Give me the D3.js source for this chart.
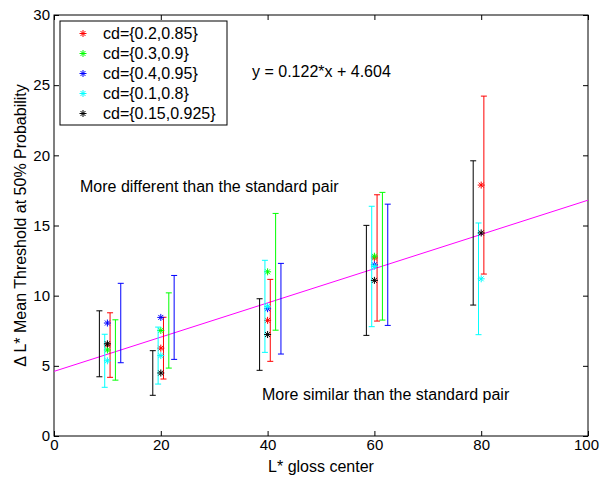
<!DOCTYPE html>
<meta charset="utf-8">
<script src="https://d3js.org/d3.v7.min.js"></script>
<style>
  body { margin: 0; background: #fff; }
  text { font-family: "Liberation Sans", Arial, sans-serif; fill: #000; }
</style>
<div id="chart"></div>
<script>
  // gloss centers (x positions of the markers)
  const glossCenters = [10, 20, 40, 60, 80];

  // series names (legend order)
  const seriesNames = ["cd={0.2,0.85}", "cd={0.3,0.9}", "cd={0.4,0.95}", "cd={0.1,0.8}", "cd={0.15,0.925}"];

  // mean threshold per series, per gloss center (null = no data)
  const meanRed   = [6.48, 6.26, 8.24, 12.69, 17.88];
  const meanGreen = [6.13, 7.52, 11.70, 12.81, null];
  const meanBlue  = [8.05, 8.45, 9.07, 12.20, null];
  const meanCyan  = [5.36, 5.73, 9.24, 12.08, 11.20];
  const meanBlack = [6.57, 4.49, 7.23, 11.09, 14.47];

  // half-length of the error bars
  const errRed   = [2.30, 2.20, 2.92, 4.50, 6.34];
  const errGreen = [2.15, 2.68, 4.16, 4.55, null];
  const errBlue  = [2.83, 2.99, 3.23, 4.32, null];
  const errCyan  = [1.89, 2.03, 3.28, 4.29, 3.98];
  const errBlack = [2.35, 1.59, 2.55, 3.92, 5.14];

  // fitted line
  const fitSlope = 0.122, fitIntercept = 4.604;

  const xTicks = [0, 20, 40, 60, 80, 100];
  const yTicks = [0, 5, 10, 15, 20, 25, 30];

  // error bars are drawn slightly shifted from the marker (x units)
  const series = [
    { name: seriesNames[0], mean: meanRed,   err: errRed,   color: "#ff0000", shift: 0.5 },
    { name: seriesNames[1], mean: meanGreen, err: errGreen, color: "#00ff00", shift: 1.5 },
    { name: seriesNames[2], mean: meanBlue,  err: errBlue,  color: "#0000ff", shift: 2.5 },
    { name: seriesNames[3], mean: meanCyan,  err: errCyan,  color: "#00ffff", shift: -0.5 },
    { name: seriesNames[4], mean: meanBlack, err: errBlack, color: "#000000", shift: -1.5 }
  ];

  const W = 600, H = 477;
  const margin = { top: 15, right: 12, bottom: 41, left: 54 };
  const width = W - margin.left - margin.right,
    height = H - margin.top - margin.bottom;
  const fs = "16px", tickFs = "15px";

  const svg = d3.select("#chart").append("svg")
    .attr("width", W).attr("height", H)
    .append("g")
    .attr("transform", `translate(${margin.left},${margin.top})`);

  const x = d3.scaleLinear().domain([0, 100]).range([0, width]);
  const y = d3.scaleLinear().domain([0, 30]).range([height, 0]);

  // axes with inward ticks (matlab style box)
  const tickLen = 5;
  svg.append("g").attr("transform", `translate(0,${height})`)
    .call(d3.axisBottom(x).tickValues(xTicks).tickSizeInner(-tickLen).tickSizeOuter(0).tickPadding(3))
    .call(g => g.selectAll("text").style("font-size", tickFs)
      .attr("dx", d => d === 100 ? -2 : 0));
  svg.append("g")
    .call(d3.axisTop(x).tickValues(xTicks).tickSizeInner(-tickLen).tickSizeOuter(0).tickFormat(""));
  svg.append("g")
    .call(d3.axisLeft(y).tickValues(yTicks).tickSizeInner(-tickLen).tickSizeOuter(0).tickPadding(4))
    .call(g => g.selectAll("text").style("font-size", tickFs));
  svg.append("g").attr("transform", `translate(${width},0)`)
    .call(d3.axisRight(y).tickValues(yTicks).tickSizeInner(-tickLen).tickSizeOuter(0).tickFormat(""));
  svg.selectAll(".domain").remove();
  svg.selectAll(".tick line").attr("stroke", "#000");
  svg.append("rect").attr("width", width).attr("height", height)
    .attr("fill", "none").attr("stroke", "#000").attr("stroke-width", 1);

  // fit line
  svg.append("line")
    .attr("x1", x(0)).attr("y1", y(fitIntercept))
    .attr("x2", x(100)).attr("y2", y(fitSlope * 100 + fitIntercept))
    .attr("stroke", "#ff00ff").attr("stroke-width", 1);

  // asterisk marker path
  function star(cx, cy, r) {
    const d = r * Math.SQRT1_2;
    return `M${cx - r},${cy}H${cx + r}M${cx},${cy - r}V${cy + r}` +
      `M${cx - d},${cy - d}L${cx + d},${cy + d}M${cx - d},${cy + d}L${cx + d},${cy - d}`;
  }

  const cap = 3;
  series.forEach(s => {
    const pts = glossCenters.map((g, i) => ({ g: g, m: s.mean[i], e: s.err[i] }))
      .filter(p => p.m != null);
    const grp = svg.append("g");
    // error bars
    pts.forEach(p => {
      const bx = x(p.g + s.shift);
      const path = `M${bx},${y(p.m - p.e)}V${y(p.m + p.e)}` +
        `M${bx - cap},${y(p.m + p.e)}H${bx + cap}M${bx - cap},${y(p.m - p.e)}H${bx + cap}`;
      grp.append("path").attr("d", path).attr("stroke", s.color).attr("fill", "none").attr("stroke-width", 1);
    });
    // markers
    grp.selectAll(".m").data(pts).join("path")
      .attr("d", p => star(x(p.g), y(p.m), 3.5))
      .attr("stroke", s.color).attr("stroke-width", 1).attr("fill", "none");
  });

  // annotations
  svg.append("text").attr("x", 198).attr("y", 62).style("font-size", fs)
    .text("y = 0.122*x + 4.604");
  svg.append("text").attr("x", 26).attr("y", 177).style("font-size", fs)
    .text("More different than the standard pair");
  svg.append("text").attr("x", 208).attr("y", 385).style("font-size", fs)
    .text("More similar than the standard pair");

  // axis labels
  svg.append("text").attr("x", width / 2).attr("y", height + 36)
    .attr("text-anchor", "middle").style("font-size", fs).text("L* gloss center");
  svg.append("text").attr("transform", `translate(-28,${height / 2}) rotate(-90)`)
    .attr("text-anchor", "middle").style("font-size", fs)
    .text("\u0394 L* Mean Threshold at 50% Probability");

  // legend
  const leg = svg.append("g").attr("transform", "translate(6,6)");
  leg.append("rect").attr("width", 167).attr("height", 104)
    .attr("fill", "#fff").attr("stroke", "#000").attr("stroke-width", 1);
  series.forEach((s, i) => {
    const ly = 12.5 + i * 20;
    leg.append("path").attr("d", star(23, ly, 3.5))
      .attr("stroke", s.color).attr("fill", "none");
    leg.append("text").attr("x", 43).attr("y", ly + 5.5).style("font-size", fs).text(s.name);
  });
</script>
